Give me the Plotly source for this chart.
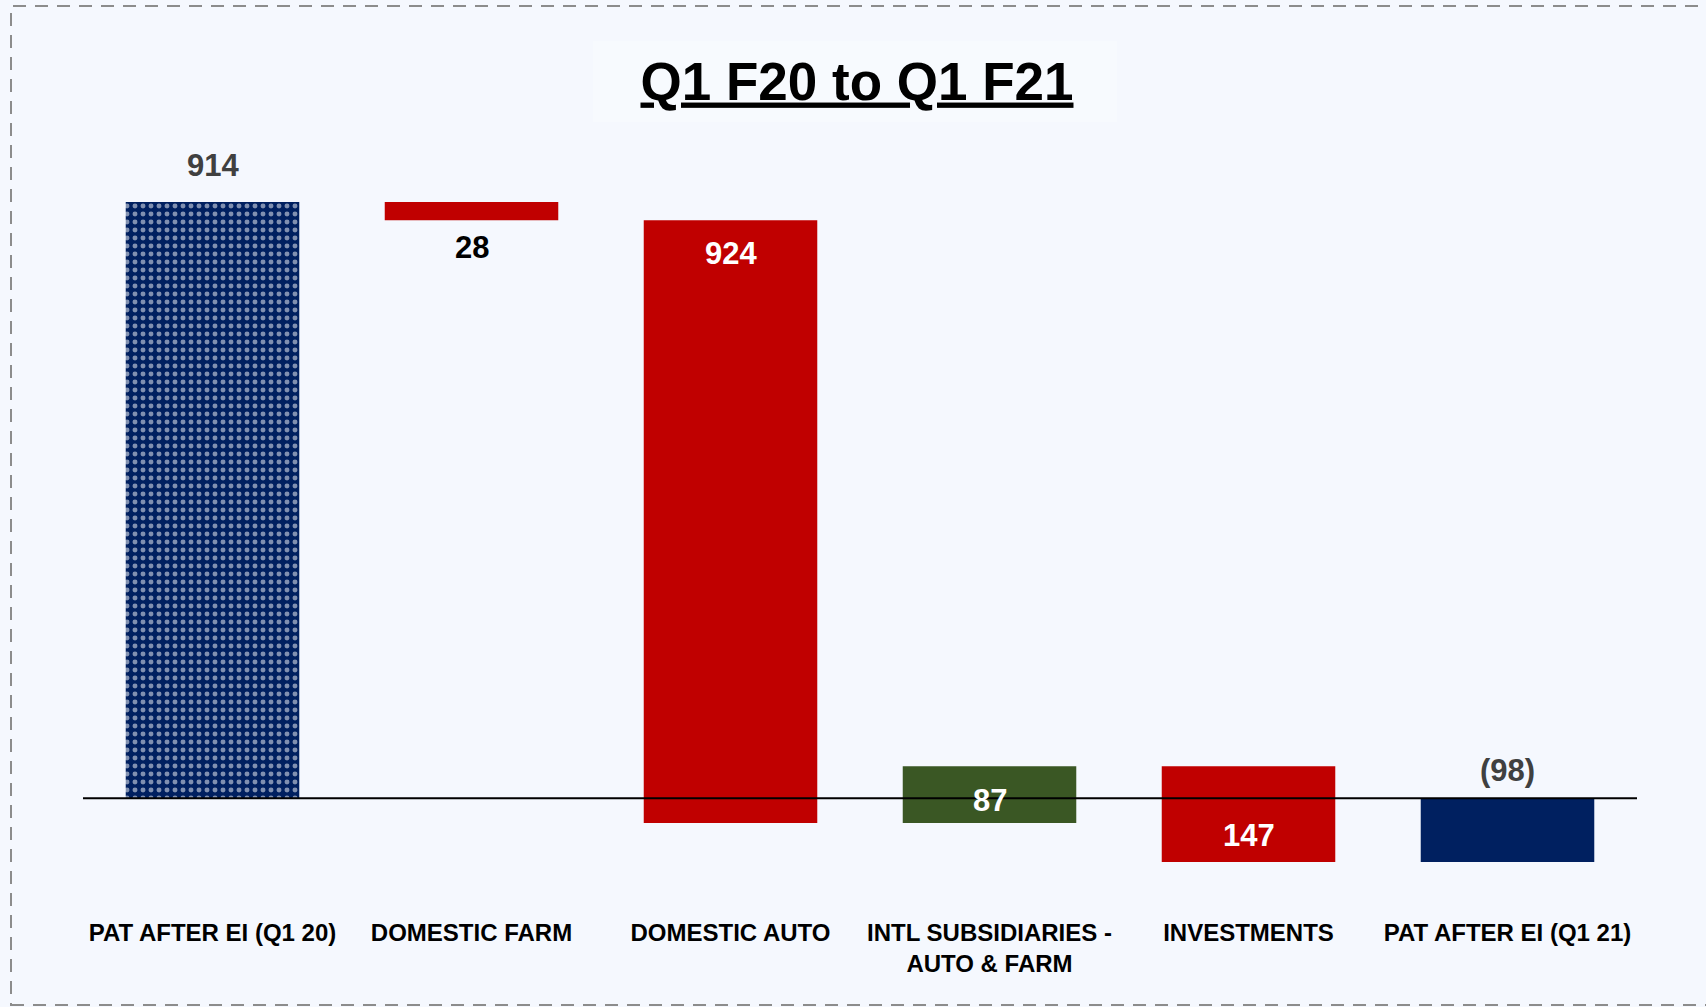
import plotly.graph_objects as go

# ---- data ----
categories = ["PAT AFTER EI (Q1 20)", "DOMESTIC FARM", "DOMESTIC AUTO",
              "INTL SUBSIDIARIES -<br>AUTO & FARM", "INVESTMENTS", "PAT AFTER EI (Q1 21)"]
values = [914, -28, -924, 87, -147, -98]
measures = ["total", "relative", "relative", "relative", "relative", "total"]
title_text = "Q1 F20 to Q1 F21"

# ---- styles ----
bar_colors = ["#002060", "#C00000", "#C00000", "#3A5724", "#C00000", "#002060"]
pattern_shapes = [".", "", "", "", "", ""]
label_colors = ["#404040", "#000000", "#FFFFFF", "#FFFFFF", "#FFFFFF", "#404040"]
label_anchor = ["top", "bottom", "top", "top", "bottom", "top"]
label_shift = [37, -27, -33, -34, 27, 28]
BG = "#F5F8FE"
W, H = 1706, 1007
ML, MR, MT, MB = 83, 69, 146, 111
PW, PH = W - ML - MR, H - MT - MB

# waterfall geometry derived from the data
bases, heights = [], []
running = 0
for v, m in zip(values, measures):
    if m == "total":
        bases.append(0)
        heights.append(v)
        running = v
    else:
        bases.append(running)
        heights.append(v)
        running += v

fig = go.Figure()
fig.add_trace(go.Bar(
    x=categories, y=heights, base=bases, width=0.67,
    marker=dict(color=bar_colors, line=dict(width=0),
                pattern=dict(shape=pattern_shapes, fgcolor="white",
                             size=8, solidity=0.3)),
    hoverinfo="skip", showlegend=False,
))

annotations = []
for i, (c, v, m, b, h) in enumerate(zip(categories, values, measures, bases, heights)):
    if m == "total":
        txt = f"{v}" if v >= 0 else f"({abs(v)})"
    else:
        txt = f"{abs(v)}"
    top, bot = max(b, b + h), min(b, b + h)
    yy = top if label_anchor[i] == "top" else bot
    annotations.append(dict(
        x=c, y=yy, xref="x", yref="y", text=f"<b>{txt}</b>", showarrow=False,
        yanchor="middle", xanchor="center", yshift=label_shift[i],
        font=dict(family="Liberation Sans", size=31, color=label_colors[i]),
    ))

def px_to_paper_x(px):
    return (px - ML) / PW

def py_to_paper_y(py):
    return (H - MB - py) / PH

shapes = [
    # faint title box
    dict(type="rect", xref="paper", yref="paper",
         x0=px_to_paper_x(593), x1=px_to_paper_x(1117),
         y0=py_to_paper_y(122), y1=py_to_paper_y(41),
         fillcolor="rgba(255,255,255,0.25)", line=dict(width=0), layer="below"),
    # dashed outer border
    dict(type="rect", xref="paper", yref="paper",
         x0=px_to_paper_x(11), x1=px_to_paper_x(1730),
         y0=py_to_paper_y(1005), y1=py_to_paper_y(6),
         line=dict(color="#8C8C8C", width=2, dash="13px,9px"),
         fillcolor="rgba(0,0,0,0)", layer="above"),
    # zero line over bars
    dict(type="line", xref="paper", yref="y", x0=0, x1=1, y0=0, y1=0,
         line=dict(color="#000000", width=2), layer="above"),
]

fig.update_layout(
    width=W, height=H,
    margin=dict(l=ML, r=MR, t=MT, b=MB, pad=0),
    paper_bgcolor=BG, plot_bgcolor=BG,
    title=dict(text=f"<u><b>{title_text}</b></u>", x=857 / W,
               xanchor="center", y=1 - 81 / H, yanchor="middle",
               font=dict(family="Liberation Sans", size=53, color="#000000")),
    annotations=annotations, shapes=shapes,
    bargap=0.33,
    xaxis=dict(showgrid=False, zeroline=False, showline=False, ticks="",
               ticklabelstandoff=20, range=[-0.5, 5.5],
               tickfont=dict(family="Liberation Sans", size=24, color="#000000"),
               tickmode="array", tickvals=categories,
               ticktext=[f"<b>{c}</b>" for c in categories]),
    yaxis=dict(range=[-150, 1000], showgrid=False, zeroline=False,
               showticklabels=False, showline=False),
)

fig.write_html(
    "out.html",
    config={"displayModeBar": False},
    post_script="document.body.style.margin='0';document.body.style.overflow='hidden';"
                "document.body.style.background='" + BG + "';",
)
